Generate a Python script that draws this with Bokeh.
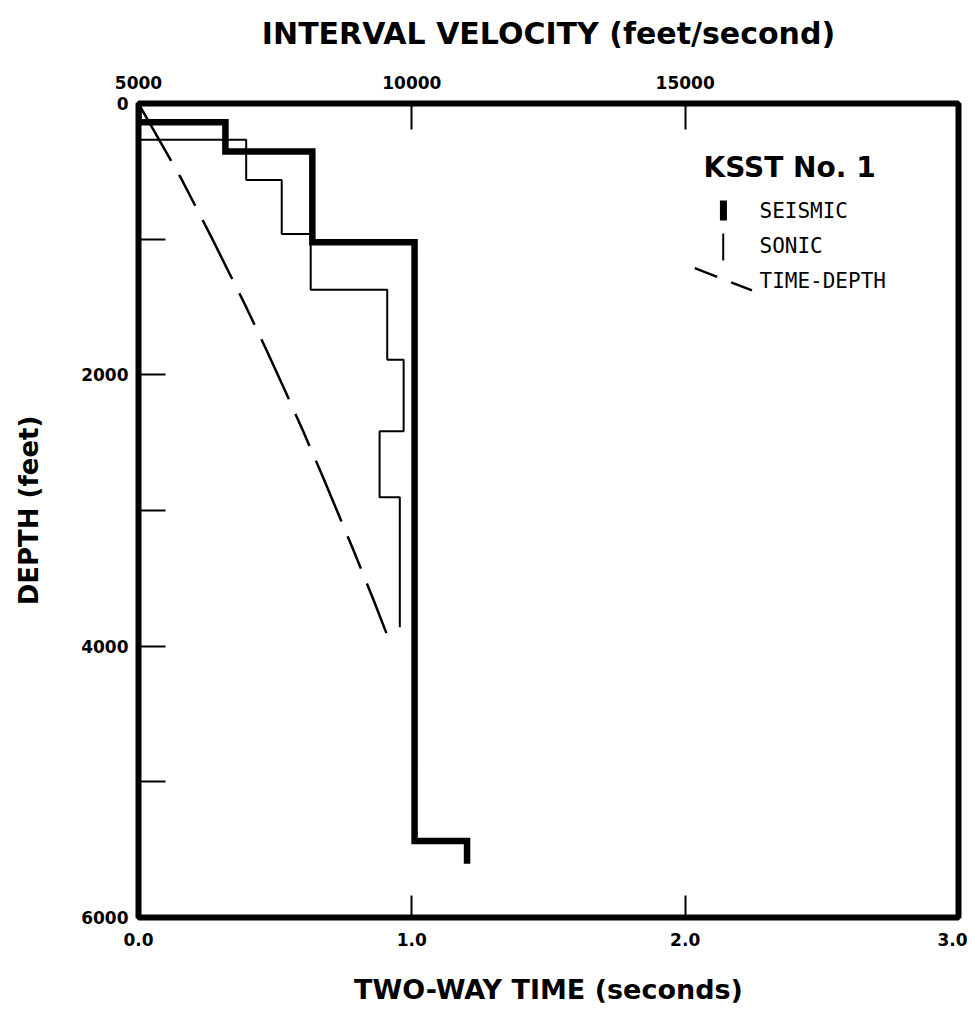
from bokeh.plotting import figure
from bokeh.models import Range1d, LinearAxis, FixedTicker, Label, PrintfTickFormatter
from bokeh.embed import file_html
from bokeh.resources import INLINE

# ---- data ----
# Seismic interval velocities (ft/s) and layer boundaries (ft)
seis_vel = [5000, 6590, 8180, 10050, 11010]
seis_bounds = [0, 138, 354, 1022, 5437, 5604]
# Sonic interval velocities (ft/s) and layer boundaries (ft)
sonic_vel = [5000, 6970, 7620, 8150, 9550, 9850, 9410, 9780]
sonic_bounds = [0, 268, 563, 961, 1373, 1889, 2415, 2902, 3860]
# Time-depth curve: two-way time (s) vs depth (ft)
td_time = [0.0, 0.154, 0.263, 0.395, 0.471, 0.538, 0.599, 0.672, 0.788, 0.861, 0.907]
td_depth = [0, 545, 970, 1505, 1830, 2125, 2400, 2740, 3300, 3665, 3904]

time_ticks = [0, 1, 2, 3]
vel_ticks = [5000, 10000, 15000, 20000]
depth_ticks = [0, 1000, 2000, 3000, 4000, 5000, 6000]


def steps(vels, bounds):
    xs, ys = [], []
    for i, v in enumerate(vels):
        xs += [v, v]
        ys += [bounds[i], bounds[i + 1]]
    return xs, ys


FONT = "DejaVu Sans"

p = figure(width=967, height=1020,
           x_range=Range1d(0, 3), y_range=Range1d(6000, 0),
           output_backend="svg", toolbar_location=None,
           min_border_left=138, min_border_right=9,
           min_border_top=103, min_border_bottom=103)
p.extra_x_ranges = {"vel": Range1d(5000, 20000)}
p.xgrid.visible = False
p.ygrid.visible = False
p.outline_line_color = "black"
p.outline_line_width = 6
p.background_fill_color = "white"
p.border_fill_color = "white"

bottom = p.below[0]
left = p.left[0]
top_axis = LinearAxis(x_range_name="vel")
p.add_layout(top_axis, "above")

def style_axis(ax, tick_len):
    ax.axis_line_color = None
    ax.major_tick_in = tick_len
    ax.major_tick_out = 0
    ax.minor_tick_in = 0
    ax.minor_tick_out = 0
    ax.major_tick_line_width = 2
    ax.major_tick_line_color = "black"
    ax.major_label_text_font = FONT
    ax.major_label_text_font_style = "bold"
    ax.major_label_text_font_size = "17px"
    ax.major_label_text_color = "black"
    ax.axis_label_text_font = FONT
    ax.axis_label_text_font_style = "bold"
    ax.axis_label_text_color = "black"

style_axis(bottom, 22)
bottom.ticker = FixedTicker(ticks=time_ticks)
bottom.formatter = PrintfTickFormatter(format="%.1f")
bottom.major_label_standoff = 15
bottom.axis_label = "TWO-WAY TIME (seconds)"
bottom.axis_label_text_font_size = "27px"
bottom.axis_label_standoff = 25

style_axis(top_axis, 26)
top_axis.ticker = FixedTicker(ticks=vel_ticks)
top_axis.major_label_overrides = {20000: ""}
top_axis.major_label_standoff = 15
top_axis.axis_label = "INTERVAL VELOCITY (feet/second)"
top_axis.axis_label_text_font_size = "30px"
top_axis.axis_label_standoff = 22

style_axis(left, 27)
left.ticker = FixedTicker(ticks=depth_ticks)
left.major_label_overrides = {1000: "", 3000: "", 5000: ""}
left.major_label_standoff = 10
left.axis_label = "DEPTH (feet)"
left.axis_label_text_font_size = "26px"
left.axis_label_standoff = 34

# ---- curves ----
sx, sy = steps(seis_vel, seis_bounds)
p.line(sx, sy, x_range_name="vel", line_color="black", line_width=6.5,
       line_join="miter")
nx, ny = steps(sonic_vel, sonic_bounds)
p.line(nx, ny, x_range_name="vel", line_color="black", line_width=2)
p.line(td_time, td_depth, line_color="black", line_width=2.5,
       line_dash="66 16 35 16")

# ---- legend (built by hand, in velocity/depth units) ----
p.add_layout(Label(x=15335, y=472, x_range_name="vel", text="KSST No. 1",
                   text_font=FONT, text_font_style="bold", text_font_size="28px",
                   text_baseline="middle", text_align="left", text_color="black"))
p.segment(x0=15700, y0=715, x1=15700, y1=862, x_range_name="vel",
          line_color="black", line_width=7)
p.segment(x0=15696, y0=958, x1=15696, y1=1157, x_range_name="vel",
          line_color="black", line_width=2)
p.segment(x0=15176, y0=1214, x1=16222, y1=1378, x_range_name="vel",
          line_color="black", line_width=2.5, line_dash="24 15")
for txt, d in [("SEISMIC", 796), ("SONIC", 1054), ("TIME-DEPTH", 1312)]:
    p.add_layout(Label(x=16360, y=d, x_range_name="vel", text=txt,
                       text_font="DejaVu Sans Mono", text_font_size="21px",
                       text_baseline="middle", text_align="left",
                       text_color="black"))

open("out.html", "w").write(file_html(p, INLINE))
